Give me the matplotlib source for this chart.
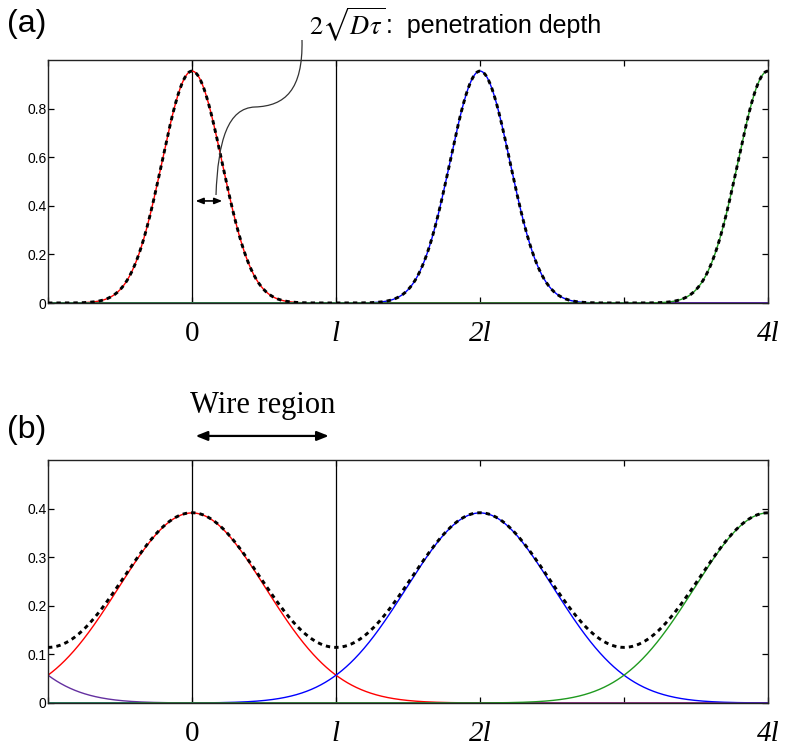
import numpy as np
import matplotlib
matplotlib.use('Agg')
import matplotlib.pyplot as plt
from matplotlib.path import Path
import matplotlib.patches as mpatches

plt.rcParams['mathtext.fontset'] = 'stix'

# gaussian pulses, x measured in units of l/2 (so l = 2)
centers = [0, 4, -4, 8]
colors = ['red', 'blue', '#6430a0', '#1f9a1f']
sigma_a = 0.418   # narrow pulses, panel (a)
sigma_b = 1.02    # wide pulses, panel (b)
xlim = (-2, 8)
xtick_pos = [-2, 0, 2, 4, 6, 8]
xlab_pos = [0, 2, 4, 8]
xlab_txt = ['0', 'l', '2l', '4l']
xlab_style = ['normal', 'italic', 'italic', 'italic']
wire = [0, 2]
ylim_a = (0, 1.0)
ylim_b = (0, 0.5)
yticks_a = [0, 0.2, 0.4, 0.6, 0.8]
yticks_b = [0, 0.1, 0.2, 0.3, 0.4]
ylab_a = ['0', '0.2', '0.4', '0.6', '0.8']
ylab_b = ['0', '0.1', '0.2', '0.3', '0.4']

x = np.linspace(xlim[0], xlim[1], 1201)

def gauss(x, c, s):
    return np.exp(-(x - c)**2 / (2 * s * s)) / (s * np.sqrt(2 * np.pi))

W, H = 790, 747
fig = plt.figure(figsize=(W / 100, H / 100), dpi=100)

def px(xp, yp):
    return xp / W, (H - yp) / H

ax_a = fig.add_axes([48 / W, (H - 303) / H, 720 / W, 243 / H])
ax_b = fig.add_axes([48 / W, (H - 703) / H, 720 / W, 243 / H])

for ax, s, ylim, yt, yl in [(ax_a, sigma_a, ylim_a, yticks_a, ylab_a),
                            (ax_b, sigma_b, ylim_b, yticks_b, ylab_b)]:
    for v in wire:
        ax.axvline(v, color='k', lw=0.9, zorder=1)
    total = np.zeros_like(x)
    for c, col in zip(centers, colors):
        y = gauss(x, c, s)
        total += y
        ax.plot(x, y, color=col, lw=1.0, zorder=2)
    ax.plot(x, total, color='k', lw=2.1, linestyle=(0, (1.5, 1.4)), zorder=3)
    ax.set_xlim(*xlim)
    ax.set_ylim(*ylim)
    ax.set_xticks(xtick_pos)
    ax.set_xticklabels([])
    ax.set_yticks(yt)
    ax.set_yticklabels(yl, fontfamily='Liberation Sans', fontsize=10)
    ax.tick_params(direction='in', length=4, width=0.9, top=True, right=True, pad=1)
    for sp in ax.spines.values():
        sp.set_linewidth(1.0)
        sp.set_color('#222222')
    for p, t, st in zip(xlab_pos, xlab_txt, xlab_style):
        ax.text(p, -0.155, t, transform=ax.get_xaxis_transform(), ha='center',
                va='baseline', fontfamily='Liberation Serif', fontstyle=st,
                fontsize=21, clip_on=False)

# panel labels
fig.text(*px(7, 9), '(a)', fontfamily='Liberation Sans', fontsize=23, va='top')
fig.text(*px(7, 415), '(b)', fontfamily='Liberation Sans', fontsize=23, va='top')

# penetration depth annotation
fig.text(*px(309, 35), r'$2\sqrt{D\tau}$', fontsize=19, va='baseline')
fig.text(*px(386, 33), ':  penetration depth', fontfamily='Liberation Sans',
         fontsize=18, va='baseline')
ax_a.annotate('', xy=(0.05, 0.42), xytext=(0.42, 0.42),
              arrowprops=dict(arrowstyle='<|-|>,head_length=0.45,head_width=0.18',
                              color='k', lw=1.2, shrinkA=0, shrinkB=0))
verts = [px(216, 195), px(218, 140), px(228, 108), px(255, 107),
         px(285, 106), px(303, 90), px(302, 40)]
codes = [Path.MOVETO, Path.CURVE4, Path.CURVE4, Path.CURVE4,
         Path.CURVE4, Path.CURVE4, Path.CURVE4]
fig.patches.append(mpatches.PathPatch(Path(verts, codes), transform=fig.transFigure,
                                      facecolor='none', edgecolor='#333333', lw=0.9))

# wire region annotation
fig.text(*px(263, 413), 'Wire region', fontfamily='Liberation Serif', fontsize=22,
         ha='center', va='baseline')
ax_b.annotate('', xy=(0.05, 1.099), xytext=(1.9, 1.099),
              xycoords=('data', 'axes fraction'), textcoords=('data', 'axes fraction'),
              arrowprops=dict(arrowstyle='<|-|>,head_length=0.7,head_width=0.28',
                              color='k', lw=1.6, shrinkA=0, shrinkB=0))

fig.savefig('out.png', dpi=100)
